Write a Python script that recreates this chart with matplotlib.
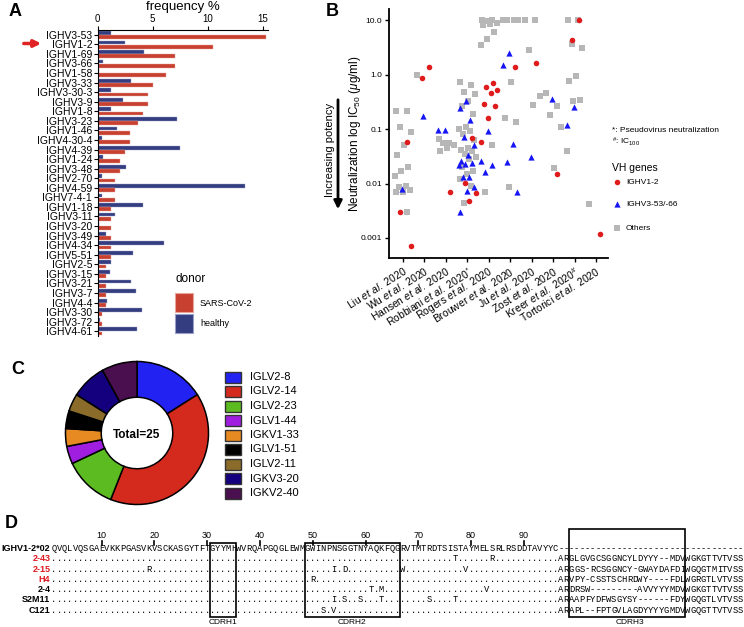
import matplotlib
matplotlib.use('Agg')
import matplotlib.pyplot as plt
from matplotlib.patches import Rectangle
from matplotlib.ticker import NullLocator
import numpy as np

plt.rcParams['font.family'] = ['Liberation Sans', 'DejaVu Sans']
plt.rcParams['mathtext.fontset'] = 'custom'
plt.rcParams['mathtext.rm'] = 'Liberation Sans'
plt.rcParams['mathtext.it'] = 'Liberation Sans:italic'
plt.rcParams['mathtext.bf'] = 'Liberation Sans:bold'

W, H = 744, 627

# A: VH gene usage
vh_genes = ['IGHV3-53', 'IGHV1-2', 'IGHV1-69', 'IGHV3-66', 'IGHV1-58', 'IGHV3-33',
            'IGHV3-30-3', 'IGHV3-9', 'IGHV1-8', 'IGHV3-23', 'IGHV1-46', 'IGHV4-30-4',
            'IGHV4-39', 'IGHV1-24', 'IGHV3-48', 'IGHV2-70', 'IGHV4-59', 'IGHV7-4-1',
            'IGHV1-18', 'IGHV3-11', 'IGHV3-20', 'IGHV3-49', 'IGHV4-34', 'IGHV5-51',
            'IGHV2-5', 'IGHV3-15', 'IGHV3-21', 'IGHV3-7', 'IGHV4-4', 'IGHV3-30',
            'IGHV3-72', 'IGHV4-61']
freq_sars = [15.3, 10.5, 7.05, 7.05, 6.2, 5.0, 4.55, 4.55, 4.1, 3.7, 2.9, 2.9,
             2.45, 2.0, 2.0, 1.6, 1.6, 1.6, 1.2, 1.2, 1.2, 1.2, 1.2, 1.2,
             0.75, 0.75, 0.75, 0.75, 0.75, 0.35, 0.35, 0.35]
freq_healthy = [1.2, 2.5, 4.2, 0.5, 0.15, 3.0, 1.2, 2.3, 1.25, 7.2, 1.8, 0.4,
                7.5, 0.5, 2.6, 0.35, 13.4, 0.4, 4.1, 1.55, 0.15, 0.75, 6.0, 3.25,
                1.2, 1.1, 3.05, 3.45, 0.85, 4.0, 0.25, 3.6]

# B: IC50 per study
studies = ['Liu', 'Wu', 'Hansen', 'Robbiani', 'Rogers', 'Brouwer', 'Ju', 'Zost', 'Kreer', 'Tortorici']
study_marks = ['', '', '', '*', '', '', '', '', r'\#', '']
ic50_v1_2 = [[0.057, 0.003, 0.0007], [1.36, 0.87], [0.0071],
             [0.068, 0.0103, 0.0067, 0.0047],
             [0.71, 0.6, 0.53, 0.45, 0.29, 0.26, 0.157, 0.057],
             [1.39], [1.6], [0.015], [10, 4.3], [0.0012]]
ic50_v3_53 = [[0.008], [0.175], [0.097, 0.097],
              [0.32, 0.24, 0.146, 0.071, 0.051, 0.034, 0.026, 0.024, 0.023, 0.022,
               0.0134, 0.013, 0.0085, 0.0072, 0.003],
              [0.09, 0.026, 0.022, 0.016],
              [2.5, 1.5, 0.053, 0.025, 0.0069], [0.031], [0.36], [0.25, 0.12], []]
ic50_other = [[0.21, 0.21, 0.11, 0.087, 0.05, 0.033, 0.02, 0.017, 0.014, 0.009,
               0.0085, 0.0075, 0.007, 0.007, 0.003],
              [1.0],
              [0.065, 0.055, 0.055, 0.05, 0.045, 0.04],
              [0.72, 0.64, 0.47, 0.43, 0.32, 0.26, 0.19, 0.108, 0.1, 0.09, 0.08,
               0.063, 0.045, 0.042, 0.04, 0.035, 0.031, 0.028, 0.02, 0.017, 0.015,
               0.012, 0.009, 0.0043],
              [10, 10, 9.5, 9, 8.5, 8, 6.1, 4.4, 3.5, 0.05, 0.0069],
              [10, 10, 10, 10, 0.74, 0.157, 0.135, 0.0088],
              [10, 10, 2.8, 0.4, 0.28],
              [0.45, 0.26, 0.18, 0.108, 0.019],
              [10, 10, 3.7, 3.1, 0.93, 0.76, 0.34, 0.32, 0.04],
              [0.0042]]

# C: VL genes
vl_genes = ['IGLV2-8', 'IGLV2-14', 'IGLV2-23', 'IGLV1-44', 'IGKV1-33',
            'IGLV1-51', 'IGLV2-11', 'IGKV3-20', 'IGKV2-40']
vl_counts = [4, 10, 3, 1, 1, 1, 1, 2, 2]
vl_colors = ['#2222f2', '#d42a1e', '#5dbb22', '#a01ee0', '#e88a22',
             '#000000', '#8a6b2a', '#14007f', '#4a0f4e']

# D: alignment
germline = 'QVQLVQSGAEVKKPGASVKVSCKASGYTFTGYYMHWVRQAPGQGLEWMGWINPNSGGTNYAQKFQGRVTMTRDTSISTAYMELSRLRSDDTAVYYC'
ab_names = ['2-43', '2-15', 'H4', '2-4', 'S2M11', 'C121']
ab_red = [True, True, True, False, False, False]
ab_mut = [{77: 'T', 84: 'R'},
          {19: 'R', 54: 'I', 56: 'D', 67: 'W', 79: 'V'},
          {50: 'R'},
          {61: 'T', 63: 'M', 83: 'V'},
          {54: 'I', 56: 'S', 59: 'S', 63: 'T', 72: 'S', 77: 'T'},
          {52: 'S', 54: 'V'}]
ab_cdr3 = ['GLGVGCSGGNCYLDYYY--MDV', 'GGS-RCSGGNCY-GWAYDAFDI', 'VPY-CSSTSCHRDWY----FDL',
           'DRSW---------AVVYYYMDV', 'AAPFYDFWSGYSY------FDY', 'APL--FPTGVLAGDYYYYGMDV']
ab_j = ['WGKGTTVTVSS', 'WGQGTMITVSS', 'WGRGTLVTVSS', 'WGKGTTVTVSS', 'WGQGTLVTVSS', 'WGQGTTVTVSS']

red = '#c8402f'
navy = '#333d80'

fig = plt.figure(figsize=(W / 100, H / 100), dpi=100)


def px_axes(x0, y0, x1, y1):
    return fig.add_axes([x0 / W, 1 - y1 / H, (x1 - x0) / W, (y1 - y0) / H])


# ---- A
axA = px_axes(97.7, 30, 268, 336)
pos = np.arange(len(vh_genes))
axA.barh(pos - 0.2, freq_healthy, height=0.4, color=navy, edgecolor='#9aa0c8', linewidth=0.3)
axA.barh(pos + 0.24, freq_sars, height=0.4, color=red, edgecolor='#e8a59c', linewidth=0.3)
axA.set_ylim(len(vh_genes) - 0.5, -0.5)
axA.set_xlim(0, 15.5)
axA.set_yticks(pos, vh_genes, fontsize=7.5)
axA.set_xticks([0, 5, 10, 15])
axA.xaxis.tick_top()
axA.xaxis.set_label_position('top')
axA.set_xlabel('frequency %', fontsize=9.5, labelpad=3)
axA.tick_params(axis='x', labelsize=7, length=3, pad=1)
axA.tick_params(axis='y', length=3, pad=1)
for s in ['bottom', 'right']:
    axA.spines[s].set_visible(False)

# ---- B
axB = px_axes(389, 9, 608, 258)
axB.set_yscale('log')


def spread(n, phase):
    return ((np.arange(n) * 0.618 + phase) % 1 - 0.5) * 0.8


for i in range(len(studies)):
    v = ic50_other[i]
    axB.scatter(i + spread(len(v), 0.1), v, marker='s', s=14, color='#b7b7b7', lw=0, zorder=2)
    v = ic50_v3_53[i]
    axB.scatter(i + spread(len(v), 0.45), v, marker='^', s=20, color='#1515f5', lw=0, zorder=3)
    v = ic50_v1_2[i]
    axB.scatter(i + spread(len(v), 0.75), v, marker='o', s=16, color='#e01b1b', lw=0, zorder=4)

axB.set_ylim(10 ** -3.367, 10 ** 1.202)
axB.set_xlim(-0.64, 9.55)
axB.set_yticks([10, 1, 0.1, 0.01, 0.001], ['10.0', '1.0', '0.1', '0.01', '0.001'], fontsize=6)
axB.yaxis.set_minor_locator(NullLocator())
labels = [n + r' $\mathit{et\ al.}$ 2020' + ('$^{' + m + '}$' if m else '') for n, m in zip(studies, study_marks)]
axB.set_xticks(range(len(studies)))
axB.set_xticklabels(labels, rotation=32, ha='right', va='top', rotation_mode='anchor', fontsize=7.5)
axB.tick_params(length=3, width=1, pad=2)
axB.set_ylabel(r'Neutralization log IC$_{50}$ ($\mu$g/ml)', fontsize=8.5)
axB.yaxis.set_label_coords(-0.12, 0.5)
for s in ['top', 'right']:
    axB.spines[s].set_visible(False)
for s in ['left', 'bottom']:
    axB.spines[s].set_linewidth(1.3)

# ---- C
cx, cy, r = 137, 433, 71.5
axC = px_axes(cx - 75, cy - 75, cx + 75, cy + 75)
axC.pie(vl_counts, colors=vl_colors, startangle=90, counterclock=False, radius=r / 75,
        wedgeprops=dict(width=0.5 * r / 75, edgecolor='k', linewidth=1.1))
axC.set_xlim(-1, 1)
axC.set_ylim(-1, 1)
axC.text(0, -0.02, 'Total=%d' % sum(vl_counts), ha='center', va='center', fontsize=8.5, fontweight='bold')

# ---- D
r0, cw = 101.5, 5.28
axD = fig.add_axes([0, 0, 1, (H - 515) / H])
axD.set_xlim(10 - r0 / cw, 10 + (W - r0) / cw)
axD.set_ylim(H, 515)
axD.axis('off')

rows = [germline + '-' * 35]
for mut, c3, j in zip(ab_mut, ab_cdr3, ab_j):
    fr = ''.join(mut.get(k, '.') for k in range(1, len(germline) + 1))
    rows.append(fr + 'AR' + c3 + j)
row_y = [548.5, 558.8, 569.1, 579.4, 589.7, 600, 610.3]
names = ['IGHV1-2*02'] + ab_names
colors = ['k'] + ['#e0161e' if f else 'k' for f in ab_red]
for y, seq, nm, c in zip(row_y, rows, names, colors):
    axD.text(0.3, y, nm, ha='right', va='center', fontsize=6.5, fontweight='bold', color=c)
    for k, ch in enumerate(seq, start=1):
        axD.text(k, y, ch, ha='center', va='center', family='Liberation Mono', fontsize=6.3)

for n in range(10, 100, 10):
    axD.text(n, 535.5, str(n), ha='center', va='center', fontsize=6.5)
    axD.plot([n, n], [540.5, 545], color='k', lw=1.2)

for (a, b, top, name, lx) in [(30.5, 35.5, 543, 'CDRH1', 33), (48.5, 66.5, 543, 'CDRH2', 57.5),
                              (98.5, 120.5, 529, 'CDRH3', 110)]:
    axD.add_patch(Rectangle((a, top), b - a, 617 - top, fill=False, edgecolor='k', lw=1.2))
    axD.text(lx, 623, name, ha='center', va='center', fontsize=6)

# ---- overlay: letters, legends, arrows
ov = fig.add_axes([0, 0, 1, 1])
ov.set_xlim(0, W)
ov.set_ylim(H, 0)
ov.axis('off')

for t, x, y in [('A', 15, 12), ('B', 332, 11), ('C', 18, 369), ('D', 11, 524)]:
    ov.text(x, y, t, ha='center', va='center', fontsize=13, fontweight='bold')

ov.annotate('', xy=(44, 43.5), xytext=(21, 43.5),
            arrowprops=dict(arrowstyle='-|>', color='#e02424', lw=2.5, mutation_scale=10))

ov.text(175, 279, 'donor', ha='left', va='center', fontsize=8.5)
ov.add_patch(Rectangle((175, 293), 18, 19, facecolor=red, edgecolor='#e8a59c', lw=0.8))
ov.add_patch(Rectangle((175, 314), 18, 19, facecolor=navy, edgecolor='#9aa0c8', lw=0.8))
ov.text(200, 303, 'SARS-CoV-2', ha='left', va='center', fontsize=6.5)
ov.text(200, 324, 'healthy', ha='left', va='center', fontsize=6.5)

ov.annotate('', xy=(338, 212), xytext=(338, 97),
            arrowprops=dict(arrowstyle='-|>', color='k', lw=2, mutation_scale=12))
ov.text(330, 150, 'Increasing potency', rotation=90, ha='center', va='center', fontsize=8)

ov.text(612, 130, '*: Pseudovirus neutralization', ha='left', va='center', fontsize=6)
ov.text(612, 142, r'$^{\#}$: IC$_{100}$', ha='left', va='center', fontsize=6)
ov.text(612, 168, 'VH genes', ha='left', va='center', fontsize=7.5)
ov.scatter([617], [182], marker='o', s=16, color='#e01b1b', lw=0)
ov.scatter([617], [204], marker='^', s=20, color='#1515f5', lw=0)
ov.scatter([617], [228], marker='s', s=14, color='#b7b7b7', lw=0)
ov.text(626, 182, 'IGHV1-2', ha='left', va='center', fontsize=6)
ov.text(626, 204, 'IGHV3-53/-66', ha='left', va='center', fontsize=6)
ov.text(626, 228, 'Others', ha='left', va='center', fontsize=6)

for k, (g, c) in enumerate(zip(vl_genes, vl_colors)):
    y = 377 + k * 14.5
    ov.add_patch(Rectangle((225, y - 5.5), 16, 11, facecolor=c, edgecolor='#333333', lw=1))
    ov.text(250, y, g, ha='left', va='center', fontsize=8)

fig.savefig('out.png', dpi=100)
